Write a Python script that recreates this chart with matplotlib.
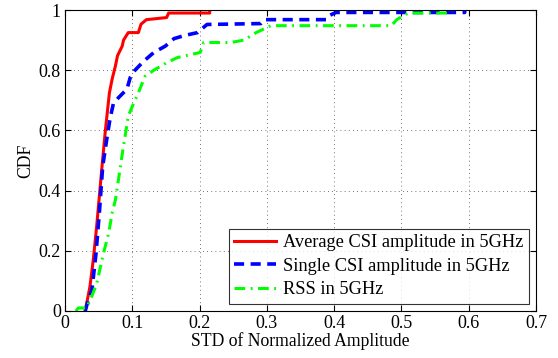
import numpy as np
import matplotlib.pyplot as plt

plt.rcParams['font.family'] = ['Liberation Serif', 'DejaVu Serif']
plt.rcParams['mathtext.fontset'] = 'stix'

# CDF curves (std value, cdf level)
avg_x = [0.030, 0.037, 0.042, 0.047, 0.055, 0.060, 0.066, 0.070, 0.075, 0.078,
         0.085, 0.087, 0.094, 0.109, 0.113, 0.121, 0.151, 0.154, 0.215, 0.215]
avg_y = [0.000, 0.080, 0.170, 0.280, 0.480, 0.600, 0.725, 0.770, 0.815, 0.848,
         0.880, 0.900, 0.925, 0.925, 0.953, 0.968, 0.975, 0.990, 0.990, 1.000]

single_x = [0.030, 0.035, 0.040, 0.046, 0.051, 0.056, 0.062, 0.067, 0.072, 0.080,
            0.092, 0.097, 0.104, 0.117, 0.132, 0.149, 0.162, 0.177, 0.197, 0.211,
            0.291, 0.296, 0.388, 0.392, 0.403, 0.594, 0.594]
single_y = [0.000, 0.040, 0.070, 0.190, 0.325, 0.480, 0.570, 0.640, 0.690, 0.710,
            0.737, 0.776, 0.800, 0.830, 0.859, 0.880, 0.905, 0.915, 0.925, 0.952,
            0.955, 0.968, 0.968, 0.981, 0.992, 0.992, 1.000]

rss_x = [0.016, 0.020, 0.032, 0.040, 0.047, 0.057, 0.065, 0.070, 0.075, 0.081,
         0.086, 0.090, 0.094, 0.102, 0.109, 0.119, 0.132, 0.152, 0.167, 0.201,
         0.206, 0.246, 0.266, 0.284, 0.306, 0.485, 0.493, 0.510, 0.570, 0.575]
rss_y = [0.000, 0.010, 0.010, 0.050, 0.090, 0.190, 0.260, 0.325, 0.370, 0.460,
         0.535, 0.590, 0.648, 0.690, 0.725, 0.780, 0.800, 0.826, 0.842, 0.859,
         0.892, 0.892, 0.900, 0.925, 0.948, 0.948, 0.968, 0.990, 0.990, 1.000]

labels = ['Average CSI amplitude in 5GHz',
          'Single CSI amplitude in 5GHz',
          'RSS in 5GHz']

fig = plt.figure(figsize=(5.58, 3.58), dpi=100)
ax = fig.add_axes([0.1165, 0.1313, 0.8441, 0.8407])

ax.plot(avg_x, avg_y, color='#ff0000', lw=2.2, ls='-', label=labels[0])
ax.plot(single_x, single_y, color='#0000ff', lw=2.6, ls=(0, (2.8, 1.8)), label=labels[1])
ax.plot(rss_x, rss_y, color='#00ff00', lw=2.2, ls=(0, (3.5, 1.8, 0.6, 1.8)), label=labels[2])

ax.set_xlim(0, 0.7)
ax.set_ylim(0, 1)
ax.set_xticks(np.arange(0, 0.71, 0.1))
ax.set_xticklabels(['0', '0.1', '0.2', '0.3', '0.4', '0.5', '0.6', '0.7'])
ax.set_yticks(np.arange(0, 1.01, 0.2))
ax.set_yticklabels(['0', '0.2', '0.4', '0.6', '0.8', '1'])
ax.tick_params(direction='in', labelsize=13, length=4, top=True, right=True, pad=3)
ax.grid(True, ls=(0, (1, 4)), color='#444444', lw=0.6)
for s in ax.spines.values():
    s.set_linewidth(0.8)

ax.set_xlabel('STD of Normalized Amplitude', fontsize=12.7, labelpad=0)
ax.set_ylabel('CDF', fontsize=12.7, labelpad=3)

leg = ax.legend(loc='lower right', fontsize=13.2, frameon=True, fancybox=False,
                edgecolor='black', handlelength=2.3, handletextpad=0.35,
                labelspacing=0.35, borderpad=0.3, borderaxespad=0.4)
leg.get_frame().set_linewidth(0.8)

fig.savefig('out.png', dpi=100)
